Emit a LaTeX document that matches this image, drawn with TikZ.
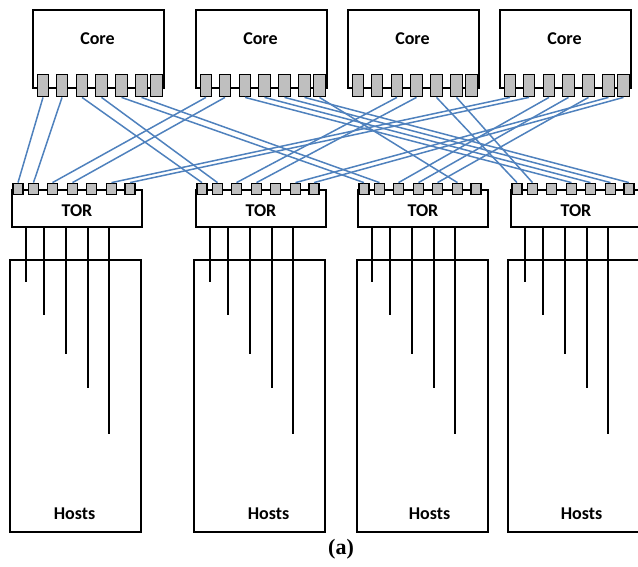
\documentclass[tikz,border=0pt]{standalone}
\usepackage{fontspec}
\newfontfamily\boxfont{Carlito}
\newfontfamily\capfont{Liberation Serif}
\definecolor{portgray}{RGB}{191,191,191}
\definecolor{linkblue}{RGB}{79,129,189}
\begin{document}
\begin{tikzpicture}[x=1pt,y=-1pt,
    box/.style={draw,line width=1.6pt,inner sep=0pt,anchor=north west},
    coreport/.style={draw,line width=1.3pt,fill=portgray,inner sep=0pt,
      minimum width=11.5pt,minimum height=22.5pt},
    torport/.style={draw,line width=1.3pt,fill=portgray,inner sep=0pt,
      minimum width=10pt,minimum height=11.5pt},
    link/.style={linkblue,line width=1.5pt},
    wire/.style={line width=1.8pt},
    lbl/.style={font=\boxfont\bfseries\fontsize{18}{18}\selectfont}]
  \useasboundingbox (0,0) rectangle (638,566);

  % core switches with their ports along the bottom edge
  \foreach \i/\x in {1/32,2/195,3/347,4/499} {
    \node[box,minimum width=131pt,minimum height=78pt] (core\i) at (\x,9) {};
    \node[lbl] (corelbl\i) at (\x+65.5,39) {Core};
    \foreach \j/\dx in {1/11,2/30,3/50,4/69.5,5/89.5,6/109.5,7/124.5}
      \node[coreport] (c\i-\j) at (\x+\dx,85.5) {};
  }

  % top-of-rack switches, ports on the top edge
  \foreach \i/\x in {1/11,2/195,3/357,4/510} {
    \node[box,minimum width=130pt,minimum height=37pt] (tor\i) at (\x,189) {};
    \node[lbl] (torlbl\i) at (\x+66,211) {TOR};
    \foreach \j/\dx in {1/7,2/22.5,3/41.5,4/61.5,5/80.5,6/100.5,7/119}
      \node[torport] (t\i-\j) at (\x+\dx,189) {};
  }

  % host racks
  \foreach \i/\x/\dt in {1/9/0,2/193/10,3/356/8,4/507/9} {
    \node[box,minimum width=131pt,minimum height=272pt] (rack\i) at (\x,259) {};
    \node[lbl] (hostlbl\i) at (\x+65.5+\dt,514) {Hosts};
  }

  % host cables hanging from each TOR
  \foreach \i in {1,...,4}
    \foreach \dx/\len in {15/54,33/87,55/126,77/160,98/206}
      \draw[wire] (tor\i.south west) ++(\dx,0) -- ++(0,\len);

  % core to TOR cabling
  \foreach \a/\b in {c1-1/t1-1,c1-2/t1-2,c1-3/t2-1,c1-4/t2-2,c1-5/t3-1,c1-6/t3-2,
                     c2-1/t1-3,c2-2/t1-4,c2-3/t4-4,c2-4/t4-5,c2-5/t4-6,c2-6/t4-7,c2-7/t3-6,
                     c3-3/t2-3,c3-4/t2-4,c3-5/t4-1,c3-6/t4-2,
                     c4-1/t1-6,c4-2/t1-7,c4-3/t3-3,c4-4/t3-4,c4-5/t3-5,c4-6/t2-6,c4-7/t2-7}
    \draw[link] (\a.south) -- (\b.north);

  \node[font=\capfont\bfseries\fontsize{22}{22}\selectfont] (caption) at (341,549) {(a)};
\end{tikzpicture}
\end{document}
